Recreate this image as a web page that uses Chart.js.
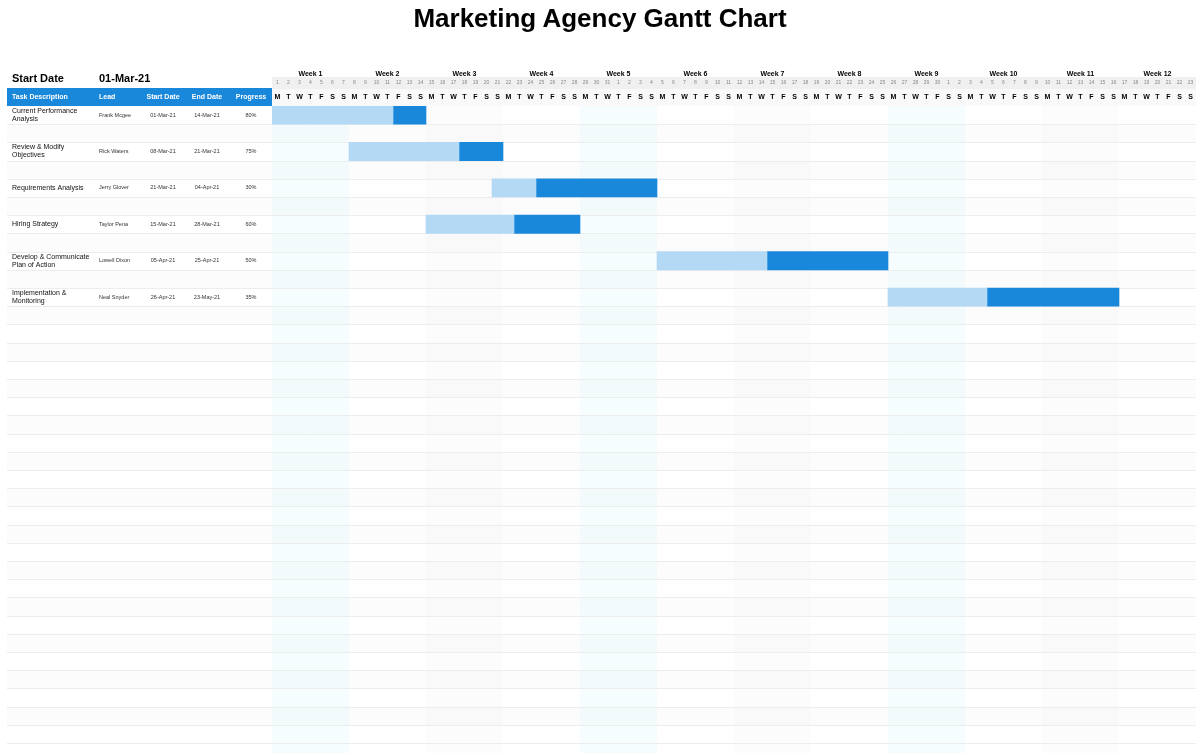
<!DOCTYPE html>
<html>
<head>
<meta charset="utf-8">
<title>Marketing Agency Gantt Chart</title>
<script src="https://cdn.jsdelivr.net/npm/chart.js@4.4.1/dist/chart.umd.min.js"></script>
<style>
  html, body { margin: 0; padding: 0; background: #fff; }
  #wrap { position: relative; width: 1200px; height: 753px; overflow: hidden; }
  #title { position: absolute; left: 0; top: 3px; width: 1200px; margin: 0; text-align: center;
           font: bold 26px "Liberation Sans", Arial, sans-serif; line-height: 30px; color: #000; }
  canvas { position: absolute; left: 0; top: 0; }
</style>
</head>
<body>
<div id="wrap">
  <canvas id="gantt" width="1200" height="753"></canvas>
  <h1 id="title">Marketing Agency Gantt Chart</h1>
</div>
<script>
// ---- data ----
const projectStart = "01-Mar-21";
const taskNames = [
  ["Current Performance", "Analysis"],
  ["Review & Modify", "Objectives"],
  ["Requirements Analysis"],
  ["Hiring Strategy"],
  ["Develop & Communicate", "Plan of Action"],
  ["Implementation &", "Monitoring"],
];
const leads      = ["Frank Mcgee", "Rick Waters", "Jerry Glover", "Taylor Pena", "Lowell Dixon", "Neal Snyder"];
const startDates = ["01-Mar-21", "08-Mar-21", "21-Mar-21", "15-Mar-21", "05-Apr-21", "26-Apr-21"];
const endDates   = ["14-Mar-21", "21-Mar-21", "04-Apr-21", "28-Mar-21", "25-Apr-21", "23-May-21"];
const progress   = ["80%", "75%", "30%", "60%", "50%", "35%"];

// bar positions in days from 1-Mar
const barStart = [0, 7, 20, 14, 35, 56];
const doneEnd  = [11, 17, 24, 22, 45, 65];
const barEnd   = [14, 21, 35, 28, 56, 77];
const taskRow  = [0, 2, 4, 6, 8, 10];

const weekLabels = ["Week 1", "Week 2", "Week 3", "Week 4", "Week 5", "Week 6",
                    "Week 7", "Week 8", "Week 9", "Week 10", "Week 11", "Week 12"];
const dayNumbers = ["1","2","3","4","5","6","7","8","9","10","11","12","13","14","15","16","17","18","19","20",
  "21","22","23","24","25","26","27","28","29","30","31",
  "1","2","3","4","5","6","7","8","9","10","11","12","13","14","15","16","17","18","19","20",
  "21","22","23","24","25","26","27","28","29","30",
  "1","2","3","4","5","6","7","8","9","10","11","12","13","14","15","16","17","18","19","20","21","22","23"];
const dayLetters = ("M T W T F S S M T W T F S S M T W T F S S M T W T F S S " +
                    "M T W T F S S M T W T F S S M T W T F S S M T W T F S S " +
                    "M T W T F S S M T W T F S S M T W T F S S M T W T F S S").trim().split(" ");
const rowSlots = Array.from({ length: 35 }, (_, i) => "r" + i);

// ---- styles ----
const FONT = '"Liberation Sans", Arial, sans-serif';
const DONE = "#b4d9f4", LEFT = "#1a88da", HEAD = "#1a88da";
const CYAN = "rgba(200,240,250,0.16)", GREY = "rgba(0,0,0,0.012)";
const weekShade = [CYAN, null, GREY, null, CYAN, null, GREY, null, CYAN, null, GREY, null];
const TABLE_X = 7;

const sheetPlugin = {
  id: "sheet",
  beforeDraw(chart) {
    const { ctx, chartArea: a } = chart;
    ctx.save();
    ctx.fillStyle = "#f0f0f0";
    ctx.fillRect(a.left, a.top - 29, a.right - a.left, 12);
    ctx.fillStyle = "#f9f9f9";
    ctx.fillRect(a.left, a.top - 17, a.right - a.left, 17);
    ctx.fillStyle = HEAD;
    ctx.fillRect(TABLE_X, a.top - 18, a.left - TABLE_X, 18);
    ctx.restore();
  },
  beforeDatasetsDraw(chart) {
    const { ctx, chartArea: a, scales: { x, y } } = chart;
    const rh = y.getPixelForValue(1) - y.getPixelForValue(0);
    ctx.save();
    rowSlots.forEach((_, i) => {
      if (i % 2 === 1) {
        ctx.fillStyle = "#fcfcfc";
        ctx.fillRect(TABLE_X, y.getPixelForValue(i) - rh / 2, a.right - TABLE_X, rh);
      }
    });
    weekShade.forEach((c, w) => {
      if (!c) return;
      const l = x.getPixelForValue(w * 7), r = x.getPixelForValue(w * 7 + 7);
      ctx.fillStyle = c;
      ctx.fillRect(l, a.top, r - l, chart.height - a.top);
    });
    ctx.strokeStyle = "#ededed";
    ctx.lineWidth = 1;
    rowSlots.forEach((_, i) => {
      const yy = Math.round(y.getPixelForValue(i) + rh / 2) + 0.5;
      ctx.beginPath(); ctx.moveTo(TABLE_X, yy); ctx.lineTo(a.right, yy); ctx.stroke();
    });
    ctx.restore();
  },
  afterDraw(chart) {
    const { ctx, chartArea: a, scales: { x, y } } = chart;
    ctx.save();
    ctx.textBaseline = "middle";

    // timeline header
    ctx.textAlign = "center";
    ctx.fillStyle = "#000";
    ctx.font = "bold 7px " + FONT;
    weekLabels.forEach((t, w) => ctx.fillText(t, x.getPixelForValue(w * 7 + 3.5), a.top - 32));
    ctx.fillStyle = "#888";
    ctx.font = "5px " + FONT;
    dayNumbers.forEach((t, i) => ctx.fillText(t, x.getPixelForValue(i + 0.5), a.top - 23));
    ctx.fillStyle = "#000";
    ctx.font = "bold 7px " + FONT;
    dayLetters.forEach((t, i) => ctx.fillText(t, x.getPixelForValue(i + 0.5), a.top - 9));

    // task table
    ctx.textAlign = "left";
    ctx.font = "bold 11px " + FONT;
    ctx.fillText("Start Date", 12, a.top - 27);
    ctx.fillText(projectStart, 99, a.top - 27);

    const hy = a.top - 9;
    ctx.fillStyle = "#fff";
    ctx.font = "bold 7px " + FONT;
    ctx.fillText("Task Description", 12, hy);
    ctx.fillText("Lead", 99, hy);
    ctx.textAlign = "center";
    ctx.fillText("Start Date", 163, hy);
    ctx.fillText("End Date", 207, hy);
    ctx.fillText("Progress", 251, hy);

    taskRow.forEach((r, i) => {
      const cy = y.getPixelForValue(rowSlots[r]);
      const lines = taskNames[i];
      ctx.fillStyle = "#111";
      ctx.font = "7px " + FONT;
      ctx.textAlign = "left";
      lines.forEach((t, k) => ctx.fillText(t, 12, cy + (k - (lines.length - 1) / 2) * 8));
      ctx.fillStyle = "#333";
      ctx.font = "5.5px " + FONT;
      ctx.fillText(leads[i], 99, cy);
      ctx.textAlign = "center";
      ctx.fillText(startDates[i], 163, cy);
      ctx.fillText(endDates[i], 207, cy);
      ctx.fillText(progress[i], 251, cy);
    });
    ctx.restore();
  },
};

const bars = (from, to) => taskRow.map((r, i) => ({ x: [from[i], to[i]], y: rowSlots[r] }));

new Chart(document.getElementById("gantt"), {
  type: "bar",
  data: {
    labels: rowSlots,
    datasets: [
      { label: "Done", data: bars(barStart, doneEnd), backgroundColor: DONE },
      { label: "Remaining", data: bars(doneEnd, barEnd), backgroundColor: LEFT },
    ],
  },
  options: {
    indexAxis: "y",
    responsive: false,
    animation: false,
    layout: { padding: { left: 272, right: 4, top: 106, bottom: 10 } },
    datasets: { bar: { grouped: false, barPercentage: 1, categoryPercentage: 1, borderWidth: 0 } },
    plugins: { legend: { display: false }, tooltip: { enabled: false }, title: { display: false } },
    scales: {
      x: { type: "linear", min: 0, max: 84, display: false },
      y: { type: "category", labels: rowSlots, display: false, offset: true },
    },
  },
  plugins: [sheetPlugin],
});
</script>
</body>
</html>
